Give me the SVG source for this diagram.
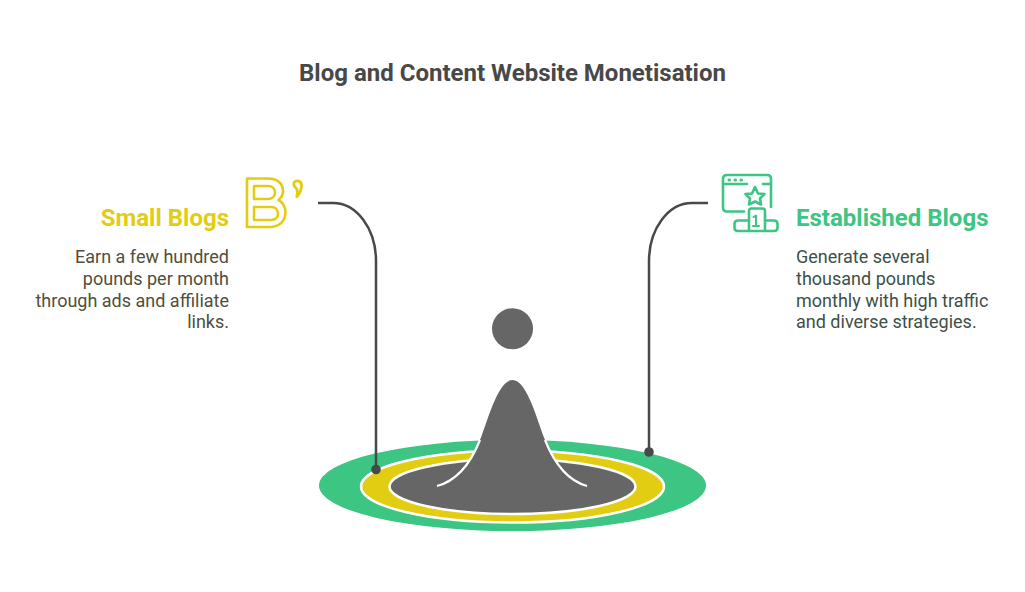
<svg xmlns="http://www.w3.org/2000/svg" width="1025" height="592" viewBox="0 0 1025 592">
<style>
text{font-family:Roboto,"Liberation Sans",sans-serif}
.title{font-size:24px;font-weight:700;fill:#484848}
.head{font-size:24px;font-weight:700}
.body{font-size:18px}
.conn{fill:none;stroke:#484848;stroke-width:2.5}
.dot{fill:#484848}
.ic{fill:none;stroke-width:2.600;stroke-linejoin:round;stroke-linecap:round}
.y{stroke:#e2cd13}.g{stroke:#3cc583}
</style>
<rect width="1025" height="592" fill="#fff"/>
<text id="title" class="title" x="512.5" y="81" text-anchor="middle">Blog and Content Website Monetisation</text>
<g id="rings">
<ellipse cx="512.5" cy="485.5" rx="193.5" ry="45.5" fill="#3cc583"/>
<ellipse cx="512.5" cy="486.5" rx="151.5" ry="36" fill="#e2cd13" stroke="#fff" stroke-width="2.5"/>
<ellipse cx="512.5" cy="486.5" rx="123" ry="27.5" fill="#666" stroke="#fff" stroke-width="2.5"/>
</g>
<g id="figure">
<path d="M437 486C460 480 472 460 480 440C488 420 498 380 512.5 380C527 380 537 420 545 440C553 460 565 480 587 486C560 500 465 500 437 486Z" fill="#666"/>
<path d="M437 486C460 480 472 460 480 440M587 486C565 480 553 460 545 440" fill="none" stroke="#fff" stroke-width="2.200"/>
<circle cx="512.500" cy="328.700" r="20.500" fill="#666"/>
</g>
<g id="connectors">
<path class="conn" d="M318 203H333A43 58 0 0 1 376 261V469"/>
<circle class="dot" cx="376" cy="469.500" r="4.800"/>
<path class="conn" d="M708 203H692A43 58 0 0 0 649 261V452"/>
<circle class="dot" cx="649" cy="452" r="4.800"/>
</g>
<g id="small-blogs">
<text class="head" x="229" y="225.500" text-anchor="end" fill="#e2cd13">Small Blogs</text>
<text class="body" text-anchor="end" fill="#4f4f3a"><tspan x="229" y="263">Earn a few hundred</tspan><tspan x="229" y="285">pounds per month</tspan><tspan x="229" y="306.500">through ads and affiliate</tspan><tspan x="229" y="328">links.</tspan></text>
<g class="ic y">
<path d="M247 178.500H268C279 178.500 283 185 283 191C283 195 281 198 278.500 200C282.500 202 285.500 207 285.500 212C285.500 221 279 227 270 227H247Z"/>
<path d="M254 186H268C272 186 275 188.500 275 192.500C275 196.500 272 199 268 199H254ZM254 207H271C275.500 207 278 210 278 213.500C278 217 275.500 220 271 220H254Z"/>
<path d="M295 181.500C298 180 301.500 181.500 301.500 185C301.500 190 300 193.500 296.800 196.800C297.800 192.500 298 190 296 188C293.500 186 293 183 295 181.500Z" stroke-width="2.800"/>
</g>
</g>
<g id="established-blogs">
<text class="head" x="796" y="225.500" fill="#3cc583">Established Blogs</text>
<text class="body" fill="#3d5048"><tspan x="796" y="263">Generate several</tspan><tspan x="796" y="285">thousand pounds</tspan><tspan x="796" y="306.500">monthly with high traffic</tspan><tspan x="796" y="328">and diverse strategies.</tspan></text>
<g class="ic g">
<path d="M744 211.500H727Q723 211.500 723 207.500V179Q723 175 727 175H767Q771 175 771 179V207"/>
<path d="M723 184H747M763 184H771"/>
<path d="M729 180H729.500M735 180H735.500M741 180H741.500" stroke-width="3"/>
<path d="M755 187L758 193.500L764.500 194L760 198.500L761 204.500L755 201.500L749 204.500L750 198.500L745.500 194L752 193.500Z"/>
<path d="M749 231V211Q749 208.500 751.500 208.500H762.500Q765 208.500 765 211V231M749 220.500H738Q734.500 220.500 734.500 224V227.500Q734.500 231 738 231H774Q777.500 231 777.500 227.500V224Q777.500 220.500 774 220.500H765"/>
<path d="M753.500 217L756 215.500V226M753 226H759" stroke-width="2"/>
</g>
</g>
</svg>
